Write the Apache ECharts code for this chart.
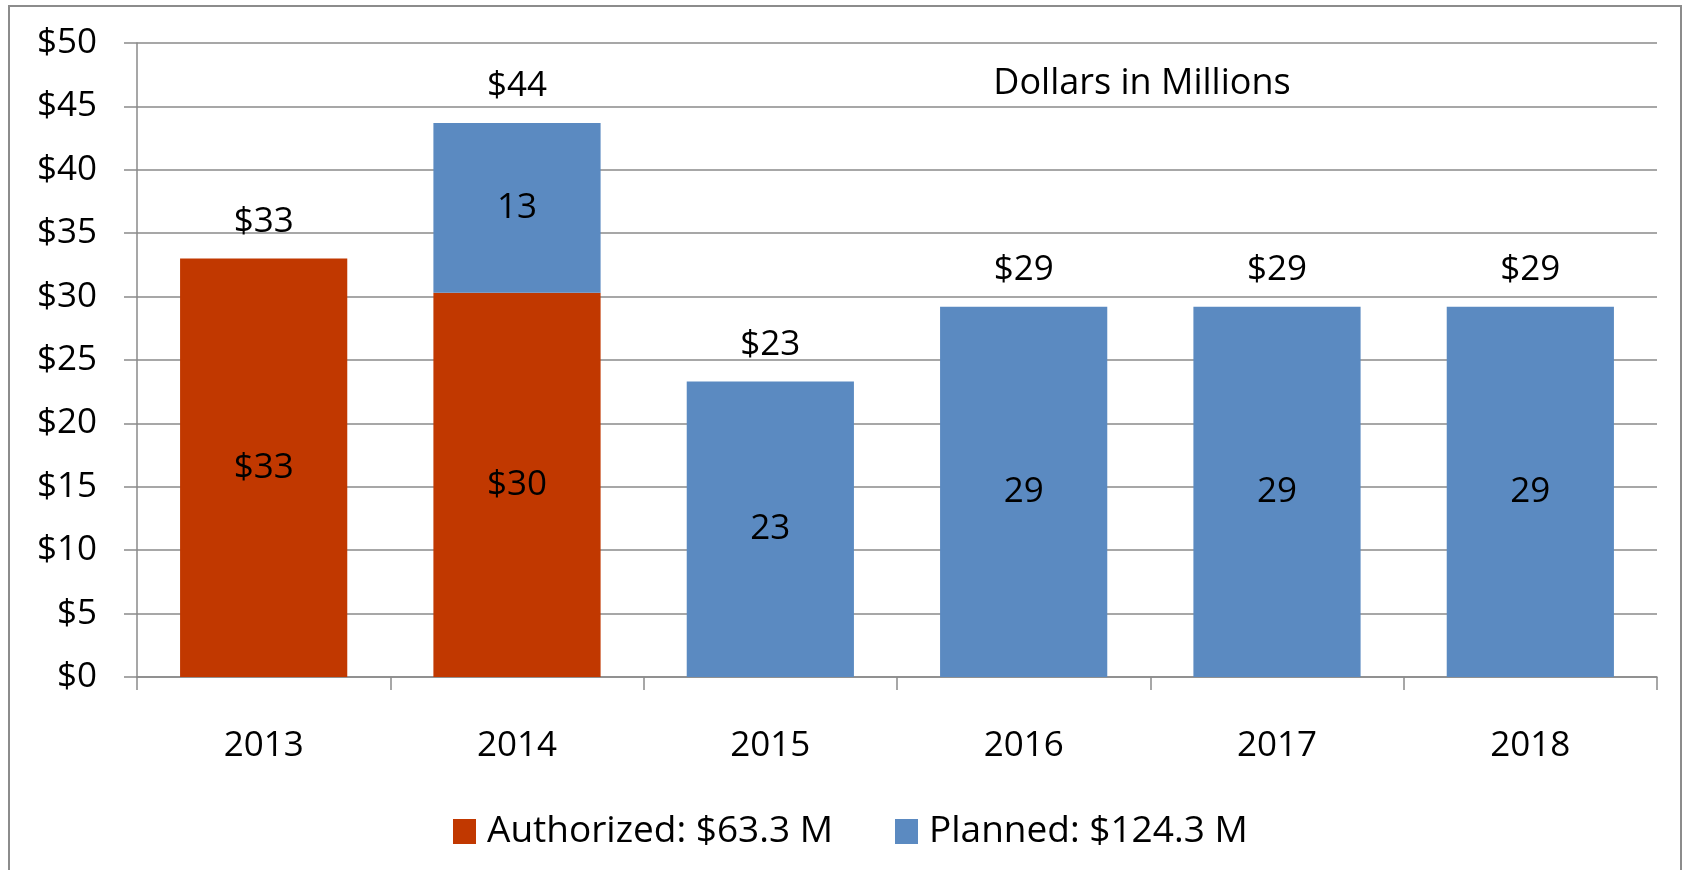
<!DOCTYPE html>
<html>
<head>
<meta charset="utf-8">
<script src="https://cdn.jsdelivr.net/npm/echarts@6/dist/echarts.min.js"></script>
<style>
html,body{margin:0;padding:0;background:#fff;}
#chart{width:1685px;height:870px;}
</style>
</head>
<body>
<div id="chart"></div>
<script>
const years = ['2013', '2014', '2015', '2016', '2017', '2018'];
const authorized = [33.0, 30.3, null, null, null, null];
const planned = [null, 13.4, 23.3, 29.2, 29.2, 29.2];
const authorizedName = 'Authorized: $63.3 M';
const plannedName = 'Planned: $124.3 M';
const unitNote = 'Dollars in Millions';
const yMin = 0, yMax = 50, yStep = 5;

const totals = years.map((_, i) => (authorized[i] || 0) + (planned[i] || 0));

const FONT = 'Open Sans';
const FS = 35;
const GRID_COLOR = '#8a8a8a';

const chart = echarts.init(document.getElementById('chart'), null, {renderer: 'canvas'});
chart.setOption({
  animation: false,
  textStyle: {fontFamily: FONT},
  grid: {left: 137, right: 28, top: 43, bottom: 193, containLabel: false},
  legend: {
    data: [authorizedName, plannedName],
    left: 453,
    top: 813,
    padding: 0,
    itemWidth: 23,
    itemHeight: 25,
    itemGap: 62,
    icon: 'rect',
    textStyle: {fontFamily: FONT, fontSize: 37, color: '#000', padding: [0, 0, 0, 6]}
  },
  graphic: [
    {type: 'rect', silent: true, z: -10,
     shape: {x: 9, y: 6, width: 1672, height: 900},
     style: {fill: 'none', stroke: '#8c8c8c', lineWidth: 2}},
    {type: 'text', silent: true, x: 1142, y: 84,
     style: {text: unitNote, fontFamily: FONT, fontSize: 36, fill: '#000',
             textAlign: 'center', textVerticalAlign: 'middle'}}
  ],
  xAxis: {
    type: 'category',
    data: years,
    axisLine: {show: true, lineStyle: {color: GRID_COLOR, width: 1.5}},
    axisTick: {show: true, length: 13, lineStyle: {color: GRID_COLOR, width: 1.5}},
    axisLabel: {fontFamily: FONT, fontSize: FS, color: '#000', margin: 52}
  },
  yAxis: {
    type: 'value',
    min: yMin, max: yMax, interval: yStep,
    axisLine: {show: true, lineStyle: {color: GRID_COLOR, width: 1.5}},
    axisTick: {show: true, length: 13, lineStyle: {color: GRID_COLOR, width: 1.5}},
    splitLine: {show: true, lineStyle: {color: GRID_COLOR, width: 1.5}},
    axisLabel: {fontFamily: FONT, fontSize: FS, color: '#000', margin: 40,
                padding: [4, 0, 0, 0],
                formatter: v => '$' + v}
  },
  series: [
    {
      name: authorizedName, type: 'bar', stack: 'amt', data: authorized,
      barCategoryGap: '34%', barGap: '-100%',
      itemStyle: {color: '#C13800'},
      label: {show: true, position: 'inside', fontFamily: FONT, fontSize: FS, color: '#000',
              formatter: p => '$' + Math.round(p.value)}
    },
    {
      name: plannedName, type: 'bar', stack: 'amt', data: planned,
      barCategoryGap: '34%', barGap: '-100%',
      itemStyle: {color: '#5B8AC1'},
      label: {show: true, position: 'inside', fontFamily: FONT, fontSize: FS, color: '#000',
              formatter: p => String(Math.round(p.value))}
    },
    {
      name: 'Total', type: 'bar', data: totals,
      barCategoryGap: '34%', barGap: '-100%',
      itemStyle: {color: 'rgba(0,0,0,0)'},
      silent: true, z: 1,
      label: {show: true, position: 'top', distance: 19, fontFamily: FONT, fontSize: FS, color: '#000',
              formatter: p => '$' + Math.round(p.value)}
    }
  ]
});
</script>
</body>
</html>
